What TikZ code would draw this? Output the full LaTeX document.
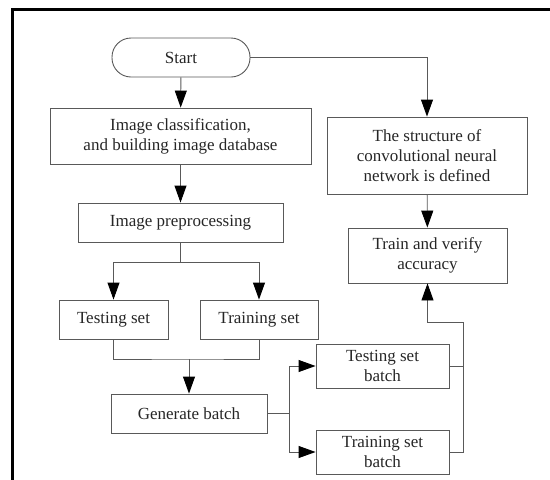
\documentclass[tikz,border=0pt]{standalone}
\usepackage{fontspec}
\setmainfont{Liberation Serif}
\usetikzlibrary{arrows.meta,positioning,calc}

\begin{document}
\begin{tikzpicture}[x=1pt,y=-1pt,
  box/.style={draw=black!65,line width=0.9pt,text=black!85,align=center,
    font=\fontsize{17}{20}\selectfont,inner sep=0pt},
  term/.style={box,rounded corners=19pt},
  ln/.style={draw=black!65,line width=0.9pt},
  arr/.style={ln,-{Triangle[length=17pt,width=12pt,color=black]}}]

\useasboundingbox (0,0) rectangle (550,480);

%% frame
\draw[line width=3pt] (12,480) -- (12,9) -- (550,9);

%% left column
\node[term,minimum width=138pt,minimum height=39pt] (start) at (181,57.5) {Start};
\node[box,minimum width=261pt,minimum height=56pt] (classify) at (180.5,136)
  {Image classification,\\and building image database};
\node[box,minimum width=205pt,minimum height=39pt] (prep) at (180.5,222.5) {Image preprocessing};
\node[box,minimum width=109pt,minimum height=39pt] (testset) at (113.5,319.5) {Testing set};
\node[box,minimum width=118pt,minimum height=39pt] (trainset) at (259,319.5) {Training set};
\node[box,minimum width=156pt,minimum height=39pt] (batch) at (189,413.5) {Generate batch};
\node[box,minimum width=133pt,minimum height=44pt] (testbatch) at (382.5,366) {Testing set\\batch};
\node[box,minimum width=133pt,minimum height=44pt] (trainbatch) at (382.5,452) {Training set\\batch};

%% right column
\node[box,minimum width=200pt,minimum height=77pt] (cnn) at (427,155.5)
  {The structure of\\convolutional neural\\network is defined};
\node[box,minimum width=159pt,minimum height=55pt] (train) at (427.5,255.5) {Train and verify\\accuracy};

\coordinate (split) at (180.5,262);
\coordinate (merge) at (189,359);
\coordinate (fork) at (289,413.5);
\coordinate (ret) at (463,322);

\draw[arr] (start) -- (classify);
\draw[arr] (classify) -- (prep);
\draw[ln] (prep) -- (split);
\draw[arr] (split) -| (testset);
\draw[arr] (split) -| (trainset);
\draw[ln] (testset) |- (merge) -| (trainset);
\draw[arr] (merge) -- (batch);
\draw[arr] (start) -| (cnn);
\draw[arr] (cnn) -- (train);
\draw[ln] (batch) -- (fork);
\draw[arr] (fork) |- (testbatch);
\draw[arr] (fork) |- (trainbatch);
\draw[ln] (trainbatch) -| (ret);
\draw[ln] (testbatch) -- (testbatch -| ret);
\draw[arr] (ret) -| (train);
\end{tikzpicture}
\end{document}
